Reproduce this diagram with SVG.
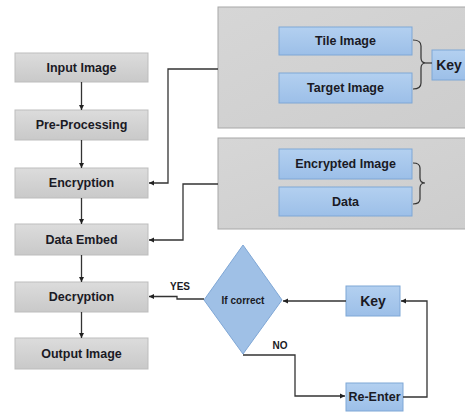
<svg xmlns="http://www.w3.org/2000/svg" width="465" height="412" viewBox="0 0 465 412">
<defs>
<linearGradient id="gg" x1="0" y1="0" x2="0" y2="1"><stop offset="0" stop-color="#dcdcdc"/><stop offset="1" stop-color="#c9c9c9"/></linearGradient>
<linearGradient id="pg" x1="0" y1="0" x2="1" y2="1"><stop offset="0" stop-color="#d6d6d6"/><stop offset="1" stop-color="#cdcdcd"/></linearGradient>
<linearGradient id="bg" x1="0" y1="0" x2="0" y2="1"><stop offset="0" stop-color="#b3d0f0"/><stop offset="1" stop-color="#9cbfe8"/></linearGradient>
<marker id="ah" markerWidth="6" markerHeight="6" refX="5" refY="3" orient="auto" markerUnits="userSpaceOnUse"><path d="M0,0.5 L5,3 L0,5.5 z" fill="#222"/></marker>
<style>
.gbox{fill:url(#gg);stroke:#bdbdbd;stroke-width:1}
.panel{fill:url(#pg);stroke:#a8a8a8;stroke-width:1}
.bbox{fill:url(#bg);stroke:#7fa7d6;stroke-width:1}
.t{font-family:"Liberation Sans",Arial,sans-serif;font-weight:bold;font-size:12.5px;fill:#1a1a24;text-anchor:middle;dominant-baseline:central}
.s{font-size:10px}
.k{font-size:14px}
.c{fill:none;stroke:#333;stroke-width:1.3}
.br{fill:none;stroke:#333;stroke-width:1.2}
</style>
</defs>
<rect width="465" height="412" fill="#ffffff"/>
<g id="panel1"><rect class="panel" x="218" y="7" width="250" height="121"/></g>
<g id="panel2"><rect class="panel" x="218" y="138" width="250" height="91"/></g>
<g id="input"><rect class="gbox" x="15" y="53" width="133" height="29"/><text class="t" x="81.5" y="67.5">Input Image</text></g>
<g id="pre"><rect class="gbox" x="15" y="110" width="133" height="30"/><text class="t" x="81.5" y="125">Pre-Processing</text></g>
<g id="enc"><rect class="gbox" x="15" y="168" width="133" height="30"/><text class="t" x="81.5" y="183">Encryption</text></g>
<g id="embed"><rect class="gbox" x="15" y="224" width="133" height="31"/><text class="t" x="81.5" y="239.5">Data Embed</text></g>
<g id="dec"><rect class="gbox" x="15" y="282" width="133" height="30"/><text class="t" x="81.5" y="297">Decryption</text></g>
<g id="out"><rect class="gbox" x="15" y="338" width="133" height="31"/><text class="t" x="81.5" y="353.5">Output Image</text></g>
<g id="tile"><rect class="bbox" x="279" y="27" width="133" height="28"/><text class="t" x="345.5" y="41">Tile Image</text></g>
<g id="target"><rect class="bbox" x="279" y="73" width="133" height="30"/><text class="t" x="345.5" y="88">Target Image</text></g>
<g id="key1"><rect class="bbox" x="432" y="50" width="38" height="30"/><text class="t k" x="449" y="65">Key</text></g>
<g id="encimg"><rect class="bbox" x="279" y="149" width="133" height="30"/><text class="t" x="345.5" y="164">Encrypted Image</text></g>
<g id="data"><rect class="bbox" x="279" y="187" width="133" height="29"/><text class="t" x="345.5" y="201.5">Data</text></g>
<g id="cond"><polygon points="243,245 282,300 243,354 204,300" fill="#9fc0e6" stroke="#7fa7d6" stroke-width="1"/><text class="t s" x="243" y="300">If correct</text></g>
<g id="key2"><rect class="bbox" x="346" y="286" width="54" height="30"/><text class="t k" x="373" y="301">Key</text></g>
<g id="reenter"><rect class="bbox" x="346" y="383" width="57" height="28"/><text class="t" x="374.5" y="397">Re-Enter</text></g>
<g id="connectors">
<path class="br" d="M413,40 Q421,40 421,46 L421,58 Q421,63 426,63 Q421,63 421,68 L421,83 Q421,89 413,89"/>
<line class="br" x1="426" y1="63" x2="432" y2="63"/>
<path class="br" d="M413,163 Q420,163 420,168 L420,178 Q420,183 425,183 Q420,183 420,188 L420,199 Q420,204 413,204"/>
<line class="c" x1="81.5" y1="82" x2="81.5" y2="110" marker-end="url(#ah)"/>
<line class="c" x1="81.5" y1="140" x2="81.5" y2="168" marker-end="url(#ah)"/>
<line class="c" x1="81.5" y1="198" x2="81.5" y2="224" marker-end="url(#ah)"/>
<line class="c" x1="81.5" y1="255" x2="81.5" y2="282" marker-end="url(#ah)"/>
<line class="c" x1="81.5" y1="312" x2="81.5" y2="338" marker-end="url(#ah)"/>
<polyline class="c" points="218,69 168,69 168,183 149,183" marker-end="url(#ah)"/>
<polyline class="c" points="218,184 183,184 183,240 149,240" marker-end="url(#ah)"/>
<polyline class="c" points="204,299 177,299 177,296.5 149,296.5" marker-end="url(#ah)"/>
<line class="c" x1="346" y1="301" x2="283" y2="301" marker-end="url(#ah)"/>
<polyline class="c" points="403,397 427,397 427,301 401,301" marker-end="url(#ah)"/>
<polyline class="c" points="243,355 295,355 295,396 345,396" marker-end="url(#ah)"/>
<text class="t s" x="180" y="286">YES</text>
<text class="t s" x="280" y="345">NO</text>
</g>
</svg>
